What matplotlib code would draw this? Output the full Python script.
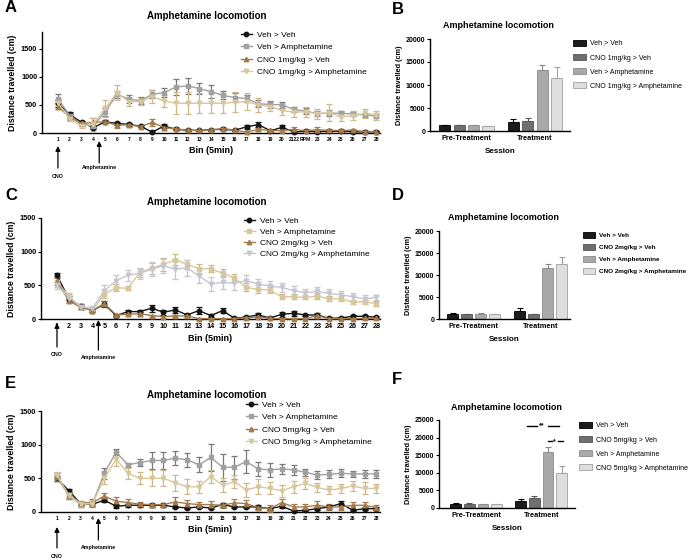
import numpy as np
import matplotlib
matplotlib.use('Agg')
import matplotlib.pyplot as plt
from matplotlib.patches import Patch
from matplotlib.lines import Line2D

plt.rcParams['font.family'] = ['Liberation Sans', 'DejaVu Sans']

# ---------------- DATA ----------------
bins = list(range(1, 29))
xlabels_A = [str(b) for b in bins]
xlabels_A[20] = '2122'
xlabels_A[21] = 'RPM'
xlabels_A[22] = '23'
xlabels = [str(b) for b in bins]

# Panel A (CNO 1mg/kg)
A_vv = [530, 330, 190, 95, 200, 170, 155, 120, 15, 125, 65, 50, 45, 60, 65, 50, 110, 150, 40, 100, 20, 30, 25, 30, 30, 25, 20, 25]
A_vv_e = [60, 40, 30, 30, 30, 30, 30, 20, 20, 40, 20, 15, 15, 20, 15, 15, 40, 50, 15, 40, 15, 15, 15, 15, 15, 15, 15, 15]
A_va = [610, 310, 155, 130, 375, 690, 605, 575, 690, 720, 820, 840, 790, 735, 670, 630, 615, 520, 510, 500, 420, 390, 345, 355, 350, 340, 320, 305]
A_va_e = [80, 40, 30, 40, 70, 60, 70, 60, 70, 80, 140, 140, 100, 120, 70, 80, 70, 60, 60, 60, 50, 60, 50, 50, 50, 40, 30, 40]
A_cv = [470, 280, 170, 190, 200, 140, 145, 115, 190, 95, 75, 50, 45, 55, 80, 50, 15, 65, 45, 40, 65, 40, 60, 45, 45, 50, 25, 25]
A_cv_e = [50, 40, 40, 80, 30, 50, 40, 20, 60, 40, 30, 20, 15, 20, 30, 15, 15, 30, 15, 20, 40, 30, 50, 30, 20, 20, 20, 20]
A_ca = [540, 250, 125, 155, 440, 720, 560, 560, 650, 570, 530, 530, 530, 530, 530, 550, 560, 500, 470, 400, 375, 375, 345, 360, 290, 305, 350, 320]
A_ca_e = [60, 40, 30, 120, 150, 130, 70, 60, 120, 100, 200, 200, 180, 180, 180, 180, 150, 130, 80, 80, 90, 90, 90, 150, 80, 80, 80, 80]

# Panel C (CNO 2mg/kg)
C_vv = [650, 300, 190, 125, 220, 50, 110, 110, 160, 100, 135, 60, 125, 50, 125, 10, 30, 60, 15, 70, 85, 60, 60, 10, 15, 40, 40, 25]
C_vv_e = [30, 40, 40, 20, 40, 20, 30, 30, 50, 40, 50, 20, 50, 20, 40, 15, 15, 25, 15, 40, 40, 15, 30, 15, 15, 20, 20, 15]
C_va = [550, 340, 185, 135, 365, 465, 455, 690, 755, 810, 880, 810, 750, 745, 680, 610, 470, 440, 430, 330, 330, 320, 340, 300, 300, 250, 255, 230]
C_va_e = [80, 40, 40, 30, 60, 50, 30, 60, 80, 90, 80, 70, 60, 50, 60, 60, 60, 60, 50, 40, 40, 30, 40, 40, 40, 30, 30, 40]
C_cv = [560, 270, 175, 125, 230, 60, 70, 80, 50, 35, 45, 45, 5, 5, 5, 5, 20, 30, 10, 5, 5, 5, 50, 5, 5, 5, 10, 10]
C_cv_e = [50, 30, 30, 20, 40, 15, 30, 30, 15, 15, 15, 15, 15, 10, 10, 10, 20, 20, 10, 10, 10, 10, 40, 10, 10, 10, 10, 10]
C_ca = [500, 315, 185, 160, 420, 570, 650, 680, 740, 790, 740, 760, 640, 520, 545, 530, 570, 520, 490, 470, 420, 390, 410, 380, 360, 330, 300, 320]
C_ca_e = [60, 40, 40, 30, 80, 80, 80, 80, 100, 100, 150, 120, 100, 100, 100, 100, 80, 80, 80, 70, 70, 60, 60, 60, 60, 60, 50, 40]

# Panel E (CNO 5mg/kg)
E_vv = [500, 315, 125, 115, 175, 85, 100, 100, 100, 100, 75, 60, 75, 60, 110, 75, 75, 75, 50, 85, 15, 25, 50, 75, 125, 25, 50, 50]
E_vv_e = [40, 30, 20, 20, 30, 30, 20, 20, 20, 20, 20, 15, 20, 15, 30, 20, 20, 30, 15, 20, 10, 15, 20, 30, 40, 15, 20, 20]
E_va = [525, 250, 110, 125, 575, 890, 700, 735, 765, 765, 800, 775, 700, 810, 665, 665, 750, 640, 625, 640, 625, 590, 550, 560, 575, 565, 565, 565]
E_va_e = [60, 50, 30, 40, 80, 40, 30, 50, 120, 120, 100, 100, 110, 200, 200, 170, 170, 100, 110, 80, 80, 50, 60, 60, 60, 50, 60, 60]
E_cv = [525, 250, 140, 140, 235, 160, 140, 115, 110, 110, 150, 125, 110, 110, 100, 135, 125, 65, 50, 140, 75, 75, 100, 75, 75, 100, 100, 65]
E_cv_e = [60, 50, 30, 60, 50, 60, 60, 40, 30, 30, 70, 60, 40, 50, 40, 60, 50, 40, 50, 60, 40, 40, 60, 50, 40, 50, 50, 40]
E_ca = [550, 250, 125, 125, 500, 785, 575, 500, 500, 500, 435, 375, 375, 525, 400, 450, 325, 375, 350, 315, 375, 425, 365, 325, 350, 385, 350, 350]
E_ca_e = [50, 40, 30, 40, 90, 100, 80, 90, 120, 120, 120, 110, 90, 100, 100, 100, 100, 110, 90, 90, 90, 80, 70, 60, 70, 80, 90, 70]

# Bar panels
sessions = ['Pre-Treatment', 'Treatment']
B_labels = ['Veh > Veh', 'CNO 1mg/kg > Veh', 'Veh > Amphetamine', 'CNO 1mg/kg > Amphetamine']
B_vals = [[1200, 2050], [1200, 2200], [1250, 13200], [1050, 11500]]
B_err = [[100, 500], [100, 550], [100, 1100], [100, 2500]]
D_labels = ['Veh > Veh', 'CNO 2mg/kg > Veh', 'Veh > Amphetamine', 'CNO 2mg/kg > Amphetamine']
D_vals = [[1200, 1900], [1150, 1100], [1200, 11700], [1150, 12450]]
D_err = [[100, 600], [60, 80], [100, 800], [80, 1750]]
F_labels = ['Veh > Veh', 'CNO 5mg/kg > Veh', 'Veh > Amphetamine', 'CNO 5mg/kg > Amphetamine']
F_vals = [[1200, 2075], [1250, 2830], [1100, 16040], [1050, 9900]]
F_err = [[100, 400], [100, 650], [80, 1400], [80, 2000]]

# ---------------- STYLE ----------------
W, H = 688, 560
fig = plt.figure(figsize=(6.88, 5.6), dpi=100)

def rect(l, t, r, b):
    return [l / W, 1 - b / H, (r - l) / W, (b - t) / H]

def fy(y):
    return 1 - y / H

BLACK = '#141414'
GRAY = '#a0a0a0'
GRAY_E = '#787878'
BROWN = '#a47b4c'
BEIGE = '#d9c79c'
BEIGE_E = '#cdb888'
LAV = '#c6c6d2'
BAR_COLS = ['#1c1c1c', '#6f6f6f', '#a9a9a9', '#dedede']
BAR_EDGE = ['#000000', '#555555', '#8a8a8a', '#a0a0a0']


def line_panel(letter, r, ylim, yticks, series, xlab, xfs, letter_y, title_y, leg_xy, leg_fs,
               leg_sp, arrow_cno, arrow_amp):
    ax = fig.add_axes(rect(*r))
    for (vals, err, col, ecol, mk, lab) in series:
        ax.errorbar(bins, vals, yerr=err, color=col, ecolor=ecol, marker=mk, ms=3.2,
                    mec=col, mfc=col, lw=1.0, elinewidth=0.9, capsize=2.0, capthick=0.9,
                    clip_on=False, zorder=3)
    ax.set_xlim(-0.35, 28.3)
    ax.set_ylim(*ylim)
    ax.set_yticks(yticks)
    ax.set_yticklabels([str(t) for t in yticks], fontsize=5.3, fontweight='bold')
    ax.set_xticks(bins)
    ax.set_xticklabels(xlab, fontsize=xfs, fontweight='bold')
    ax.tick_params(axis='y', length=2.5, width=0.8, pad=1)
    ax.tick_params(axis='x', length=0, pad=3)
    for s in ['top', 'right']:
        ax.spines[s].set_visible(False)
    for s in ['left', 'bottom']:
        ax.spines[s].set_linewidth(1.0)
    ax.set_xlabel('Bin (5min)', fontsize=6.5, fontweight='bold', labelpad=3)
    ax.set_ylabel('Distance travelled (cm)', fontsize=6.3, fontweight='bold', labelpad=3)
    fig.text(5 / W, fy(letter_y), letter, fontsize=12, fontweight='bold', va='center', ha='left')
    fig.text(207 / W, fy(title_y), 'Amphetamine locomotion', fontsize=7, fontweight='bold',
             ha='center', va='center')
    handles = [Line2D([0], [0], color=c, marker=m, ms=3.2, lw=1.0) for (_, _, c, _, m, _) in series]
    labels = [s[5] for s in series]
    fig.legend(handles, labels, loc='upper left', bbox_to_anchor=(leg_xy[0] / W, fy(leg_xy[1])),
               frameon=False, fontsize=leg_fs, handlelength=1.3, handletextpad=0.6,
               labelspacing=leg_sp, borderpad=0, borderaxespad=0)
    for (bx, tip, tail, txt_y, txt) in [arrow_cno, arrow_amp]:
        ax.annotate('', xy=(bx, fy(tip)), xycoords=('data', 'figure fraction'),
                    xytext=(bx, fy(tail)), textcoords=('data', 'figure fraction'),
                    arrowprops=dict(arrowstyle='-|>', color='black', lw=0.9,
                                    mutation_scale=7, shrinkA=0, shrinkB=0),
                    annotation_clip=False)
        ax.annotate(txt, xy=(bx, fy(txt_y)), xycoords=('data', 'figure fraction'),
                    fontsize=3.8, fontweight='bold', ha='center', va='center',
                    annotation_clip=False)
    return ax


def bar_panel(letter, r, xlim, ylim, yticks, vals, errs, labels, letter_y, title_xy, leg_xy,
              leg_bold, d=0.21, w=0.165):
    ax = fig.add_axes(rect(*r))
    x = np.arange(len(sessions))
    for i in range(4):
        off = (i - 1.5) * d
        ax.bar(x + off, vals[i], width=w, color=BAR_COLS[i], edgecolor=BAR_EDGE[i], lw=0.6,
               zorder=2)
        ax.errorbar(x + off, vals[i], yerr=[np.zeros(2), errs[i]], fmt='none',
                    ecolor=BAR_EDGE[i] if i > 0 else '#000000', elinewidth=0.8,
                    capsize=2.2, capthick=0.8, zorder=1)
    ax.set_xlim(*xlim)
    ax.set_ylim(*ylim)
    ax.set_yticks(yticks)
    ax.set_yticklabels([str(t) for t in yticks], fontsize=5, fontweight='bold')
    ax.set_xticks(x)
    ax.set_xticklabels(sessions, fontsize=5.3, fontweight='bold')
    ax.tick_params(axis='y', length=2.5, width=0.8, pad=1)
    ax.tick_params(axis='x', length=0, pad=3)
    for s in ['top', 'right']:
        ax.spines[s].set_visible(False)
    for s in ['left', 'bottom']:
        ax.spines[s].set_linewidth(1.0)
    ax.set_xlabel('Session', fontsize=5.8, fontweight='bold', labelpad=4)
    ax.set_ylabel('Distance travelled (cm)', fontsize=5.2, fontweight='bold', labelpad=2)
    fig.text(392 / W, fy(letter_y), letter, fontsize=12, fontweight='bold',
             va='center', ha='left')
    fig.text(title_xy[0] / W, fy(title_xy[1]), 'Amphetamine locomotion', fontsize=6.5,
             fontweight='bold', ha='center', va='center')
    handles = [Patch(facecolor=BAR_COLS[i], edgecolor=BAR_EDGE[i], lw=0.6) for i in range(4)]
    fs = 4.6 if leg_bold else 5.0
    fig.legend(handles, labels, loc='upper left', bbox_to_anchor=(leg_xy[0] / W, fy(leg_xy[1])),
               frameon=False, handlelength=1.9, handleheight=1.0,
               handletextpad=0.6, labelspacing=0.95, borderpad=0, borderaxespad=0,
               prop={'size': fs, 'weight': 'bold' if leg_bold else 'normal'})
    return ax


# Panel A
line_panel('A', (42, 32, 380, 133), (0, 1800), [0, 500, 1000, 1500],
           [(A_vv, A_vv_e, BLACK, BLACK, 'o', 'Veh > Veh'),
            (A_va, A_va_e, GRAY, GRAY_E, 's', 'Veh > Amphetamine'),
            (A_cv, A_cv_e, BROWN, BROWN, '^', 'CNO 1mg/kg > Veh'),
            (A_ca, A_ca_e, BEIGE, BEIGE_E, 'v', 'CNO 1mg/kg > Amphetamine')],
           xlabels_A, 3.6, 8, 16, (241, 31), 6.0, 0.55,
           (1, 146, 168, 177, 'CNO'), (4.5, 141, 163, 168, 'Amphetamine'))

# Panel C
line_panel('C', (41, 218, 380, 319), (0, 1500), [0, 500, 1000, 1500],
           [(C_vv, C_vv_e, BLACK, BLACK, 'o', 'Veh > Veh'),
            (C_va, C_va_e, BEIGE, BEIGE_E, 's', 'Veh > Amphetamine'),
            (C_cv, C_cv_e, BROWN, BROWN, '^', 'CNO 2mg/kg > Veh'),
            (C_ca, C_ca_e, LAV, LAV, 'v', 'CNO 2mg/kg > Amphetamine')],
           xlabels, 5.2, 195, 202, (244, 217), 6.0, 0.4,
           (1, 323, 347, 355, 'CNO'), (4.5, 320, 350, 358, 'Amphetamine'))

# Panel E
line_panel('E', (41, 411, 380, 512), (0, 1500), [0, 500, 1000, 1500],
           [(E_vv, E_vv_e, BLACK, BLACK, 'o', 'Veh > Veh'),
            (E_va, E_va_e, GRAY, GRAY_E, 's', 'Veh > Amphetamine'),
            (E_cv, E_cv_e, BROWN, BROWN, '^', 'CNO 5mg/kg > Veh'),
            (E_ca, E_ca_e, BEIGE, BEIGE_E, 'v', 'CNO 5mg/kg > Amphetamine')],
           xlabels, 3.6, 383, 395, (246, 401), 6.0, 0.55,
           (1, 527, 548, 557, 'CNO'), (4.5, 518, 540, 547, 'Amphetamine'))

# Panel B
bar_panel('B', (430, 39, 570, 131), (-0.53, 1.51), (0, 20000), [0, 5000, 10000, 15000, 20000],
          B_vals, B_err, B_labels, 10, (498, 25), (573, 40), False)
# Panel D
bar_panel('D', (439, 231, 570, 319), (-0.52, 1.44), (0, 20000), [0, 5000, 10000, 15000, 20000],
          D_vals, D_err, D_labels, 195, (503, 217), (583, 232), True)
# Panel F
axF = bar_panel('F', (439, 420, 575, 508), (-0.57, 1.52), (0, 25000),
                [0, 5000, 10000, 15000, 20000, 25000],
                F_vals, F_err, F_labels, 380, (506, 407), (579, 422), False)

# significance marks in F
axF.plot([0.78, 0.93], [23400, 23400], color='black', lw=1.0, clip_on=False)
axF.plot([1.10, 1.27], [23400, 23400], color='black', lw=1.0, clip_on=False)
axF.text(1.015, 23400, '**', fontsize=5, fontweight='bold', ha='center', va='center')
axF.plot([1.10, 1.16], [18900, 18900], color='black', lw=1.0, clip_on=False)
axF.plot([1.26, 1.33], [18900, 18900], color='black', lw=1.0, clip_on=False)
axF.text(1.21, 18900, '*', fontsize=5, fontweight='bold', ha='center', va='center')

fig.savefig('out.png', dpi=100)
